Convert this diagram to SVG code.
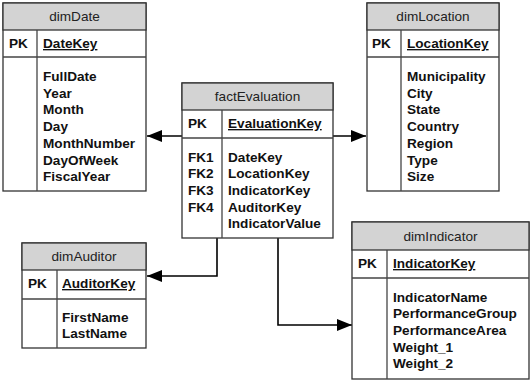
<svg xmlns="http://www.w3.org/2000/svg" width="532" height="382" viewBox="0 0 532 382">
<style>
.box{fill:#fff;stroke:#333;stroke-width:1.3}
.hdr{fill:#d3d3d3;stroke:#333;stroke-width:1.3}
.ln{stroke:#444;stroke-width:1.3;fill:none}
.t{font-family:"Liberation Sans",Arial,sans-serif;font-size:13.6px;fill:#111}
.b{font-weight:bold}
.ttl{font-family:"Liberation Sans",Arial,sans-serif;font-size:13.6px;fill:#222;text-anchor:middle}
.u{text-decoration:underline}
.c{stroke:#000;stroke-width:1.6;fill:none}
</style>
<defs>
<marker id="ah" markerWidth="15" markerHeight="12" refX="15" refY="6" orient="auto" markerUnits="userSpaceOnUse">
<path d="M0,0 L15,6 L0,12 Z" fill="#000"/>
</marker>
</defs>
<rect width="532" height="382" fill="#fff"/>
<g id="connectors">
<path class="c" d="M182,136 L147,136" marker-end="url(#ah)"/>
<path class="c" d="M333,136 L366,136" marker-end="url(#ah)"/>
<path class="c" d="M217,238 L217,276 L147,276" marker-end="url(#ah)"/>
<path class="c" d="M278,238 L278,325 L352,325" marker-end="url(#ah)"/>
</g>
<g id="dimDate">
<rect class="box" x="3" y="3" width="143" height="188"/>
<rect class="hdr" x="3" y="3" width="143" height="27"/>
<line class="ln" x1="3" y1="57" x2="146" y2="57"/>
<line class="ln" x1="37" y1="30" x2="37" y2="191"/>
<text class="ttl" x="74.5" y="21">dimDate</text>
<text class="t b" x="9" y="48">PK</text>
<text class="t b u" x="43" y="48">DateKey</text>
<text class="t b" x="43" y="81">FullDate</text>
<text class="t b" x="43" y="97.7">Year</text>
<text class="t b" x="43" y="114.4">Month</text>
<text class="t b" x="43" y="131.1">Day</text>
<text class="t b" x="43" y="147.8">MonthNumber</text>
<text class="t b" x="43" y="164.5">DayOfWeek</text>
<text class="t b" x="43" y="181.2">FiscalYear</text>
</g>
<g id="dimLocation">
<rect class="box" x="367" y="3" width="132" height="188"/>
<rect class="hdr" x="367" y="3" width="132" height="27"/>
<line class="ln" x1="367" y1="57" x2="499" y2="57"/>
<line class="ln" x1="401" y1="30" x2="401" y2="191"/>
<text class="ttl" x="433" y="21">dimLocation</text>
<text class="t b" x="372" y="48">PK</text>
<text class="t b u" x="407" y="48">LocationKey</text>
<text class="t b" x="407" y="81">Municipality</text>
<text class="t b" x="407" y="97.7">City</text>
<text class="t b" x="407" y="114.4">State</text>
<text class="t b" x="407" y="131.1">Country</text>
<text class="t b" x="407" y="147.8">Region</text>
<text class="t b" x="407" y="164.5">Type</text>
<text class="t b" x="407" y="181.2">Size</text>
</g>
<g id="factEvaluation">
<rect class="box" x="182" y="83" width="151" height="155"/>
<rect class="hdr" x="182" y="83" width="151" height="27"/>
<line class="ln" x1="182" y1="138" x2="333" y2="138"/>
<line class="ln" x1="222" y1="110" x2="222" y2="238"/>
<text class="ttl" x="257.5" y="101">factEvaluation</text>
<text class="t b" x="188" y="128">PK</text>
<text class="t b u" x="228" y="128">EvaluationKey</text>
<text class="t b" x="188" y="161.5">FK1</text>
<text class="t b" x="188" y="178.2">FK2</text>
<text class="t b" x="188" y="194.9">FK3</text>
<text class="t b" x="188" y="211.6">FK4</text>
<text class="t b" x="228" y="161.5">DateKey</text>
<text class="t b" x="228" y="178.2">LocationKey</text>
<text class="t b" x="228" y="194.9">IndicatorKey</text>
<text class="t b" x="228" y="211.6">AuditorKey</text>
<text class="t b" x="228" y="228.3">IndicatorValue</text>
</g>
<g id="dimAuditor">
<rect class="box" x="22" y="243" width="124" height="105"/>
<rect class="hdr" x="22" y="243" width="124" height="27"/>
<line class="ln" x1="22" y1="299" x2="146" y2="299"/>
<line class="ln" x1="57" y1="270" x2="57" y2="348"/>
<text class="ttl" x="84" y="261">dimAuditor</text>
<text class="t b" x="28" y="288">PK</text>
<text class="t b u" x="62" y="288">AuditorKey</text>
<text class="t b" x="62" y="321.5">FirstName</text>
<text class="t b" x="62" y="338.2">LastName</text>
</g>
<g id="dimIndicator">
<rect class="box" x="352" y="222" width="177" height="157"/>
<rect class="hdr" x="352" y="222" width="177" height="28"/>
<line class="ln" x1="352" y1="278" x2="529" y2="278"/>
<line class="ln" x1="387" y1="250" x2="387" y2="379"/>
<text class="ttl" x="440.5" y="241">dimIndicator</text>
<text class="t b" x="358" y="268">PK</text>
<text class="t b u" x="393" y="268">IndicatorKey</text>
<text class="t b" x="393" y="301.5">IndicatorName</text>
<text class="t b" x="393" y="318.2">PerformanceGroup</text>
<text class="t b" x="393" y="334.9">PerformanceArea</text>
<text class="t b" x="393" y="351.6">Weight_1</text>
<text class="t b" x="393" y="368.3">Weight_2</text>
</g>
</svg>
